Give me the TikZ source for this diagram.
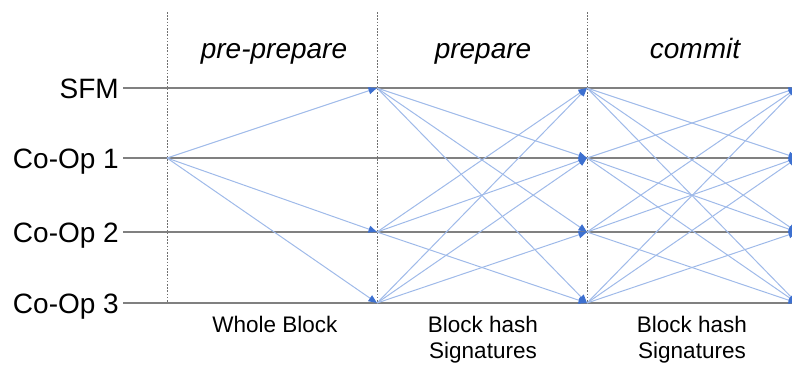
\documentclass[tikz,border=0pt]{standalone}
\usepackage{fontspec}
\setmainfont{Liberation Sans}
\usetikzlibrary{arrows.meta}
\definecolor{msgline}{HTML}{9FBAE9}
\definecolor{msgtip}{HTML}{3D70D0}
\definecolor{timeline}{HTML}{808080}
\definecolor{phaseline}{HTML}{707070}
\begin{document}
\begin{tikzpicture}[x=1pt,y=-1pt,
  rowlabel/.style={anchor=base east,inner sep=0pt,font=\fontsize{28}{30}\selectfont},
  phase/.style={anchor=base,inner sep=0pt,font=\fontsize{28}{30}\selectfont\itshape},
  note/.style={anchor=base,inner sep=0pt,align=center,font=\fontsize{22.5}{25.5}\selectfont},
  timeline/.style={draw=timeline,line width=1.4pt},
  phaseline/.style={draw=phaseline,line width=0.7pt,dash pattern=on 1.6pt off 1.6pt},
  msg/.style={draw=msgline,line width=1pt,
    -{Triangle[length=8.5pt,width=7pt,color=msgtip]}}]
\useasboundingbox (0,0) rectangle (792,365);

% grid of message endpoints: one row per replica, one column per phase boundary
\foreach \r/\y in {sfm/88,coa/158,cob/232,coc/303}{
  \coordinate (\r-s) at (123,\y);
  \foreach \c/\x in {0/167,1/377,2/587,3/797}
    \coordinate (\r-\c) at (\x,\y);
}
\foreach \c/\x in {0/167,1/377,2/587}
  \coordinate (top-\c) at (\x,12);

% replica timelines
\node[rowlabel] (lbl-sfm) at (119,98) {SFM};
\node[rowlabel] (lbl-coa) at (119,168) {Co-Op 1};
\node[rowlabel] (lbl-cob) at (119,242) {Co-Op 2};
\node[rowlabel] (lbl-coc) at (119,313) {Co-Op 3};
\foreach \r in {sfm,coa,cob,coc}
  \draw[timeline] (\r-s) -- (\r-3);

% phase boundaries
\foreach \c in {0,1,2}
  \draw[phaseline] (top-\c) -- (coc-\c);

% phase names
\node[phase] (h-pre)  at (274,58) {pre-prepare};
\node[phase] (h-prep) at (483,58) {prepare};
\node[phase] (h-com)  at (695,58) {commit};

% pre-prepare: Co-Op 1 sends the block to the others
\foreach \t in {sfm,cob,coc}
  \draw[msg] (coa-0) -- (\t-1);

% prepare
\foreach \s/\t in {sfm/coa,sfm/cob,sfm/coc,
                   cob/sfm,cob/coa,cob/coc,
                   coc/sfm,coc/coa,coc/cob}
  \draw[msg] (\s-1) -- (\t-2);

% commit: everybody to everybody
\foreach \s/\t in {sfm/coa,sfm/cob,sfm/coc,
                   coa/sfm,coa/cob,coa/coc,
                   cob/sfm,cob/coa,cob/coc,
                   coc/sfm,coc/coa,coc/cob}
  \draw[msg] (\s-2) -- (\t-3);

% message contents (a two-line node sits on its last baseline)
\node[note] (n-pre)  at (275,332) {Whole Block};
\node[note] (n-prep) at (483,358) {Block hash\\Signatures};
\node[note] (n-com)  at (692,358) {Block hash\\Signatures};
\end{tikzpicture}
\end{document}
